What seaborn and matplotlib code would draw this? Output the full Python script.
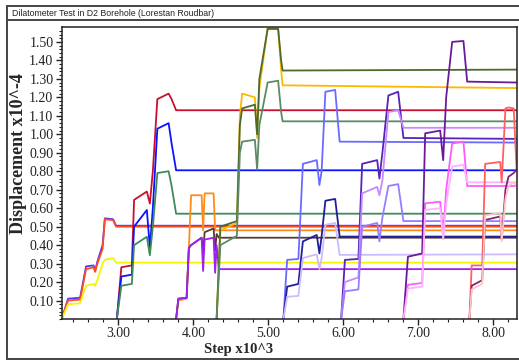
import matplotlib
matplotlib.use("Agg")
import matplotlib.pyplot as plt
from matplotlib.lines import Line2D
from matplotlib.ticker import MultipleLocator, FixedLocator
import seaborn as sns

sns.set_style("white")
plt.rcParams['font.family'] = ['Liberation Serif', 'DejaVu Serif']

# ---- data (step x10^3, displacement x10^-4) ----
# group 1 (starts at left edge)
x1 = [2.245, 2.33, 2.49, 2.57, 2.67, 2.69, 2.72, 2.79, 2.82, 2.93, 2.97, 8.31]
g1_blue = [0, 0.11, 0.115, 0.285, 0.29, 0.26, 0.31, 0.40, 0.545, 0.54, 0.505, 0.505]
g1_red = [0, 0.10, 0.105, 0.27, 0.28, 0.255, 0.30, 0.38, 0.54, 0.535, 0.50, 0.50]
g1_yellow = [0, 0.08, 0.085, 0.18, 0.19, 0.18, 0.21, 0.30, 0.32, 0.33, 0.305, 0.305]

# group 2
x2 = [2.98, 3.04, 3.18, 3.21, 3.38, 3.42, 3.46, 3.52, 3.67, 3.71, 3.77, 8.31]
g2_red = [0, 0.28, 0.29, 0.645, 0.69, 0.625, 0.80, 1.19, 1.22, 1.19, 1.13, 1.13]
g2_blue = [0, 0.23, 0.24, 0.50, 0.59, 0.385, 0.60, 1.03, 1.06, 0.95, 0.805, 0.805]
g2_green = [0, 0.18, 0.19, 0.40, 0.445, 0.345, 0.50, 0.79, 0.80, 0.72, 0.57, 0.57]

# group 3
x3 = [3.77, 3.80, 3.91, 3.94, 3.97, 4.11, 4.13, 4.15, 4.27, 4.29, 4.31, 4.34, 8.31]
g3_orange = [0, 0.10, 0.11, 0.38, 0.67, 0.67, 0.48, 0.68, 0.68, 0.48, 0.48, 0.48, 0.48]
g3_brown = [0, 0.11, 0.115, 0.385, 0.40, 0.44, 0.36, 0.47, 0.49, 0.37, 0.46, 0.44, 0.44]
g3_purple = [0, 0.11, 0.115, 0.385, 0.40, 0.44, 0.26, 0.43, 0.44, 0.25, 0.40, 0.27, 0.27]

# group 4
x4 = [4.31, 4.36, 4.58, 4.62, 4.65, 4.82, 4.85, 4.88, 4.99, 5.13, 5.17, 5.19, 8.31]
g4_gold = [0, 0.48, 0.52, 1.10, 1.22, 1.20, 0.98, 1.25, 1.575, 1.575, 1.35, 1.265, 1.25]
g4_olive = [0, 0.50, 0.53, 1.05, 1.14, 1.16, 1.00, 1.30, 1.57, 1.57, 1.40, 1.345, 1.35]
g4_green = [0, 0.40, 0.45, 0.90, 0.96, 0.97, 0.81, 1.05, 1.28, 1.29, 1.12, 1.07, 1.07]

# group 5
x5 = [5.20, 5.25, 5.40, 5.46, 5.645, 5.68, 5.71, 5.76, 5.89, 5.95, 8.31]
g5_peri = [0, 0.32, 0.325, 0.84, 0.86, 0.725, 0.80, 1.23, 1.24, 0.96, 0.955]
g5_navy = [0, 0.175, 0.19, 0.42, 0.455, 0.355, 0.45, 0.64, 0.65, 0.446, 0.446]
g5_lav = [0, 0.12, 0.125, 0.33, 0.35, 0.27, 0.33, 0.51, 0.52, 0.347, 0.35]

# group 6
x6 = [5.97, 6.02, 6.20, 6.25, 6.45, 6.48, 6.52, 6.60, 6.73, 6.80, 8.31]
g6_indigo = [0, 0.32, 0.325, 0.84, 0.86, 0.76, 0.90, 1.21, 1.23, 0.98, 0.975]
g6_violet = [0, 0.20, 0.225, 0.68, 0.715, 0.67, 0.75, 1.12, 1.13, 1.035, 1.035]
g6_mauve = [0, 0.15, 0.16, 0.50, 0.52, 0.42, 0.55, 0.72, 0.73, 0.53, 0.53]

# group 7
x7 = [6.80, 6.86, 7.05, 7.09, 7.29, 7.33, 7.37, 7.45, 7.60, 7.65, 8.31]
g7_pink = [0, 0.185, 0.195, 0.626, 0.635, 0.455, 0.70, 0.95, 0.96, 0.72, 0.72]
g7_dark = [0, 0.337, 0.355, 1.005, 1.02, 0.86, 1.20, 1.50, 1.505, 1.285, 1.28]
g7_light = [0, 0.165, 0.175, 0.59, 0.60, 0.43, 0.62, 0.825, 0.835, 0.74, 0.74]

# group 8
x8 = [7.68, 7.71, 7.85, 7.89, 8.09, 8.11, 8.16, 8.20, 8.27, 8.31]
g8_salmon = [0, 0.29, 0.29, 0.84, 0.85, 0.74, 1.14, 1.145, 1.14, 0.80]
g8_dark = [0, 0.18, 0.21, 0.536, 0.555, 0.43, 0.70, 0.77, 0.79, 0.81]
g8_pale = [0, 0.16, 0.19, 0.56, 0.575, 0.42, 0.65, 0.72, 0.74, 0.72]

series = [
    (x1, g1_blue, "#5533ff"), (x1, g1_red, "#ff4a1a"), (x1, g1_yellow, "#f5f500"),
    (x2, g2_red, "#c8102e"), (x2, g2_blue, "#0a14ff"), (x2, g2_green, "#3c8c5a"),
    (x3, g3_orange, "#ff8c1a"), (x3, g3_brown, "#5a3a32"), (x3, g3_purple, "#a020f0"),
    (x4, g4_gold, "#ffb800"), (x4, g4_olive, "#4b6a2e"), (x4, g4_green, "#5c8a64"),
    (x5, g5_peri, "#6b6bff"), (x5, g5_navy, "#1f1f99"), (x5, g5_lav, "#ccbbff"),
    (x6, g6_indigo, "#5a22b8"), (x6, g6_violet, "#c58aff"), (x6, g6_mauve, "#9a7cff"),
    (x7, g7_pink, "#ff5cff"), (x7, g7_dark, "#6a1b9a"), (x7, g7_light, "#ffb3ff"),
    (x8, g8_salmon, "#ff6060"), (x8, g8_dark, "#8b2270"), (x8, g8_pale, "#ffc4c4"),
]

W, H = 519, 361
fig = plt.figure(figsize=(W / 100, H / 100), dpi=100)
ax = fig.add_axes([61.7 / W, 42 / H, 455 / W, 291.7 / H])

for xs, ys, col in series:
    sns.lineplot(x=xs, y=ys, color=col, ax=ax, linewidth=1.3,
                 estimator=None, sort=False)

ax.set_xlim(2.245, 8.31)
ax.set_ylim(0, 1.579)

ax.xaxis.set_major_locator(FixedLocator([3, 4, 5, 6, 7, 8]))
ax.xaxis.set_minor_locator(MultipleLocator(0.2))
ax.yaxis.set_major_locator(FixedLocator([0.1 * i for i in range(1, 16)]))
ax.yaxis.set_minor_locator(MultipleLocator(0.02))
ax.xaxis.set_major_formatter(plt.FuncFormatter(lambda v, p: f"{v:.2f}"))
ax.yaxis.set_major_formatter(plt.FuncFormatter(lambda v, p: f"{v:.2f}"))
ax.tick_params(which='major', direction='out', length=4, width=1, labelsize=10,
               colors='#222222', pad=2, bottom=True, left=True)
ax.tick_params(which='minor', direction='out', length=2, width=0.8,
               colors='#222222', bottom=True, left=True)
for s in ax.spines.values():
    s.set_color('#222222')
    s.set_linewidth(1.1)

ax.set_xlabel("Step x10^3", fontsize=10.5, fontweight='bold')
ax.set_ylabel("Displacement x10^-4", fontsize=13, fontweight='bold')
ax.xaxis.set_label_coords(0.389, -0.083)
ax.yaxis.set_label_coords(-0.077, 0.567)

# outer frame and title strip
def fline(x0, y0, x1_, y1_):
    fig.add_artist(Line2D([x0 / W, x1_ / W], [1 - y0 / H, 1 - y1_ / H],
                          transform=fig.transFigure, color='#444444', lw=1.4))

fline(7, 6, W, 6)
fline(7, 20, W, 20)
fline(7, 6, 7, 359)
fline(7, 359, W, 359)
fig.text(12 / W, 1 - 13.5 / H, "Dilatometer Test in D2 Borehole (Lorestan Roudbar)",
         fontsize=6.3, family=['Liberation Sans', 'DejaVu Sans'], color='#222222',
         va='center', ha='left')

fig.savefig("out.png", dpi=100)
